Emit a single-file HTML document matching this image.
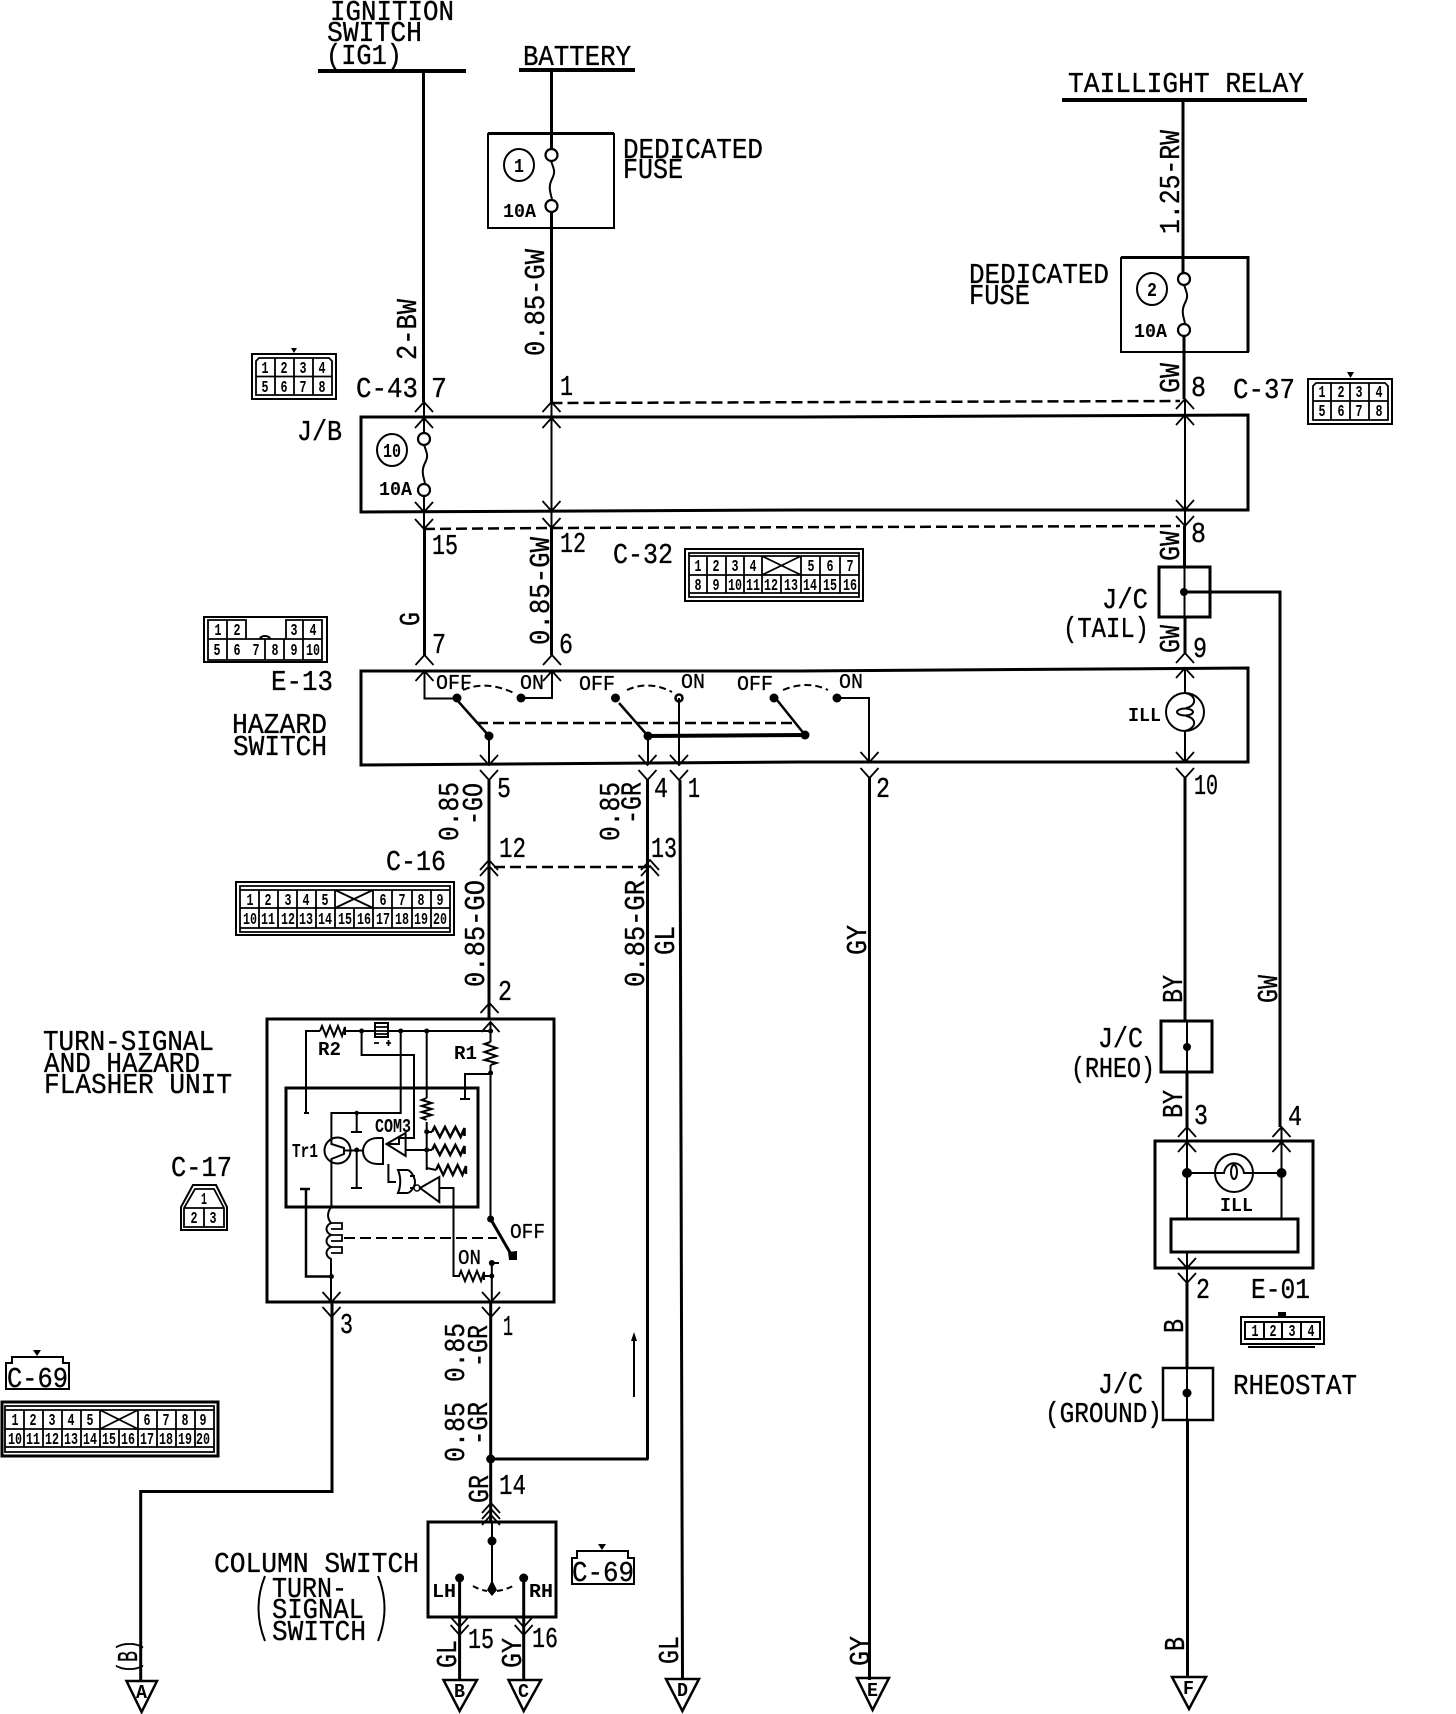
<!DOCTYPE html>
<html>
<head>
<meta charset="utf-8">
<title>Hazard and turn-signal wiring diagram</title>
<style>
html,body{margin:0;padding:0;background:#fff}
svg{display:block}
text{font-family:"Liberation Mono",monospace;fill:#000;stroke:none}
.t{font-size:29px;stroke:#000;stroke-width:.35}
.m{font-size:21px;stroke:#000;stroke-width:.3}
.s{font-size:19px;font-weight:bold}
.p{font-size:17px;font-weight:bold;text-anchor:middle}
.w{fill:none;stroke:#000;stroke-width:3}
.n{fill:none;stroke:#000;stroke-width:2}
.h{fill:none;stroke:#000;stroke-width:1.8}
.d{fill:none;stroke:#000;stroke-width:2.5;stroke-dasharray:11 5}
.k{fill:#000;stroke:none}
</style>
</head>
<body>
<svg xmlns="http://www.w3.org/2000/svg" width="1456" height="1714" viewBox="0 0 1456 1714">
<defs>
<path id="up" d="M-9,10 L0,0 L9,10" fill="none" stroke="#000" stroke-width="1.8"/>
<path id="dn" d="M-9,-10 L0,0 L9,-10" fill="none" stroke="#000" stroke-width="1.8"/>
<path id="rh" d="M0,0 l2,-5 l4,10 l4,-10 l4,10 l4,-10 l4,10 l3,-9 v8" fill="none" stroke="#000" stroke-width="2"/>
<path id="fz" d="M0,6 c4,10 4,12 1,18 c-3,6 -3,10 0,20" fill="none" stroke="#000" stroke-width="2"/>
</defs>

<!-- power bars and top wires -->
<path class="w" style="stroke-width:4" d="M318,71H466M519,70H635M1062,100H1307"/>
<path class="w" d="M423.5,71V402M551.5,70V149M551.5,212V402M1183,100V273M1184,336V399"/>
<text class="t" x="330" y="20" textLength="124" lengthAdjust="spacingAndGlyphs">IGNITION</text>
<text class="t" x="327" y="41" textLength="95" lengthAdjust="spacingAndGlyphs">SWITCH</text>
<text class="t" x="326" y="64" textLength="76" lengthAdjust="spacingAndGlyphs">(IG1)</text>
<text class="t" x="523" y="65" textLength="108" lengthAdjust="spacingAndGlyphs">BATTERY</text>
<text class="t" x="1068" y="92" textLength="236" lengthAdjust="spacingAndGlyphs">TAILLIGHT RELAY</text>

<!-- dedicated fuse 1 -->
<rect class="n" x="488" y="134" width="126" height="94"/>
<path class="w" d="M488,133.5H614"/>
<ellipse class="n" cx="519" cy="165" rx="15" ry="16"/>
<text class="s" x="514" y="172" textLength="10" lengthAdjust="spacingAndGlyphs">1</text>
<use href="#fz" x="551" y="155"/>
<circle cx="551.5" cy="155" r="6" fill="#fff" stroke="#000" stroke-width="2.2"/>
<circle cx="551.5" cy="206" r="6" fill="#fff" stroke="#000" stroke-width="2.2"/>
<text class="s" x="503" y="217" textLength="33" lengthAdjust="spacingAndGlyphs">10A</text>
<text class="t" x="623" y="158" textLength="140" lengthAdjust="spacingAndGlyphs">DEDICATED</text>
<text class="t" x="623" y="178" textLength="60" lengthAdjust="spacingAndGlyphs">FUSE</text>

<!-- dedicated fuse 2 -->
<rect class="n" x="1121" y="258" width="127" height="94"/>
<path class="w" d="M1121,257.5H1248V352"/>
<ellipse class="n" cx="1152" cy="289" rx="15" ry="16"/>
<text class="s" x="1147" y="296" textLength="10" lengthAdjust="spacingAndGlyphs">2</text>
<use href="#fz" x="1184" y="279"/>
<circle cx="1184" cy="279" r="6" fill="#fff" stroke="#000" stroke-width="2.2"/>
<circle cx="1184" cy="330" r="6" fill="#fff" stroke="#000" stroke-width="2.2"/>
<text class="s" x="1134" y="337" textLength="33" lengthAdjust="spacingAndGlyphs">10A</text>
<text class="t" x="969" y="283" textLength="140" lengthAdjust="spacingAndGlyphs">DEDICATED</text>
<text class="t" x="969" y="304" textLength="61" lengthAdjust="spacingAndGlyphs">FUSE</text>

<!-- rotated wire labels, upper -->
<text class="t" transform="translate(416,360) rotate(-90)" textLength="61" lengthAdjust="spacingAndGlyphs">2-BW</text>
<text class="t" transform="translate(544,356) rotate(-90)" textLength="107" lengthAdjust="spacingAndGlyphs">0.85-GW</text>
<text class="t" transform="translate(1179,234) rotate(-90)" textLength="104" lengthAdjust="spacingAndGlyphs">1.25-RW</text>
<text class="t" transform="translate(1179,393) rotate(-90)" textLength="30" lengthAdjust="spacingAndGlyphs">GW</text>
<text class="t" transform="translate(1179,561) rotate(-90)" textLength="30" lengthAdjust="spacingAndGlyphs">GW</text>
<text class="t" transform="translate(1179,653) rotate(-90)" textLength="28" lengthAdjust="spacingAndGlyphs">GW</text>
<text class="t" transform="translate(549,645) rotate(-90)" textLength="108" lengthAdjust="spacingAndGlyphs">0.85-GW</text>
<text class="t" transform="translate(419,626) rotate(-90)" textLength="14" lengthAdjust="spacingAndGlyphs">G</text>

<!-- C-43 -->
<path class="k" d="M291,348h6l-3,5z"/>
<rect class="n" x="252" y="354" width="84" height="45"/>
<path class="h" d="M256,361l3,-3H329l3,3V395H256ZM256,376.500H332M275,358V395M294,358V395M313,358V395"/>
<text class="p" x="265" y="373" textLength="7" lengthAdjust="spacingAndGlyphs">1</text>
<text class="p" x="284" y="373" textLength="7" lengthAdjust="spacingAndGlyphs">2</text>
<text class="p" x="303" y="373" textLength="7" lengthAdjust="spacingAndGlyphs">3</text>
<text class="p" x="322" y="373" textLength="7" lengthAdjust="spacingAndGlyphs">4</text>
<text class="p" x="265" y="392" textLength="7" lengthAdjust="spacingAndGlyphs">5</text>
<text class="p" x="284" y="392" textLength="7" lengthAdjust="spacingAndGlyphs">6</text>
<text class="p" x="303" y="392" textLength="7" lengthAdjust="spacingAndGlyphs">7</text>
<text class="p" x="322" y="392" textLength="7" lengthAdjust="spacingAndGlyphs">8</text>
<text class="t" x="356" y="397" textLength="62" lengthAdjust="spacingAndGlyphs">C-43</text>
<text class="t" x="431" y="397" textLength="16" lengthAdjust="spacingAndGlyphs">7</text>
<text class="t" x="560" y="395" textLength="13" lengthAdjust="spacingAndGlyphs">1</text>
<text class="t" x="1191" y="396" textLength="15" lengthAdjust="spacingAndGlyphs">8</text>
<text class="t" x="1233" y="398" textLength="62" lengthAdjust="spacingAndGlyphs">C-37</text>

<!-- C-37 -->
<path class="k" d="M1347,372h7l-3.500,6z"/>
<rect class="n" x="1308" y="379" width="84" height="45"/>
<path class="h" d="M1313,386l3,-3H1385l3,3V420H1313ZM1313,401H1388M1331,383V420M1350,383V420M1369,383V420"/>
<text class="p" x="1322" y="397" textLength="7" lengthAdjust="spacingAndGlyphs">1</text>
<text class="p" x="1341" y="397" textLength="7" lengthAdjust="spacingAndGlyphs">2</text>
<text class="p" x="1359" y="397" textLength="7" lengthAdjust="spacingAndGlyphs">3</text>
<text class="p" x="1379" y="397" textLength="7" lengthAdjust="spacingAndGlyphs">4</text>
<text class="p" x="1322" y="416" textLength="7" lengthAdjust="spacingAndGlyphs">5</text>
<text class="p" x="1341" y="416" textLength="7" lengthAdjust="spacingAndGlyphs">6</text>
<text class="p" x="1359" y="416" textLength="7" lengthAdjust="spacingAndGlyphs">7</text>
<text class="p" x="1379" y="416" textLength="7" lengthAdjust="spacingAndGlyphs">8</text>

<!-- J/B -->
<path class="w" d="M361,417H800L1248,415V510H800L361,512Z"/>
<path class="d" d="M551.500,403L1180,401"/>
<path class="d" d="M424,529L551.500,528L1180,526"/>
<text class="t" x="297" y="440" textLength="45" lengthAdjust="spacingAndGlyphs">J/B</text>
<ellipse class="n" cx="392" cy="450" rx="15" ry="16"/>
<text class="s" x="383" y="457" textLength="18" lengthAdjust="spacingAndGlyphs">10</text>
<path class="n" d="M424,402V433M424,496V529M551.500,402V529M1185,399V526"/>
<use href="#fz" x="424" y="439"/>
<circle cx="424" cy="439" r="6" fill="#fff" stroke="#000" stroke-width="2.2"/>
<circle cx="424" cy="490" r="6" fill="#fff" stroke="#000" stroke-width="2.2"/>
<text class="s" x="379" y="495" textLength="33" lengthAdjust="spacingAndGlyphs">10A</text>
<use href="#up" x="424" y="402"/><use href="#up" x="424" y="418"/>
<use href="#up" x="551.500" y="402"/><use href="#up" x="551.500" y="418"/>
<use href="#up" x="1185" y="399"/><use href="#up" x="1185" y="415"/>
<use href="#dn" x="424" y="512"/><use href="#dn" x="424" y="529"/>
<use href="#dn" x="551.500" y="511"/><use href="#dn" x="551.500" y="528"/>
<use href="#dn" x="1185" y="510"/><use href="#dn" x="1185" y="526"/>

<!-- between J/B and hazard switch -->
<path class="w" d="M424.500,529V655M551.500,528V655M1184.500,526V566M1185,617V653"/>
<text class="t" x="432" y="554" textLength="26" lengthAdjust="spacingAndGlyphs">15</text>
<text class="t" x="560" y="552" textLength="26" lengthAdjust="spacingAndGlyphs">12</text>
<text class="t" x="613" y="563" textLength="60" lengthAdjust="spacingAndGlyphs">C-32</text>
<text class="t" x="1191" y="542" textLength="15" lengthAdjust="spacingAndGlyphs">8</text>
<text class="t" x="432" y="653" textLength="14" lengthAdjust="spacingAndGlyphs">7</text>
<text class="t" x="559" y="653" textLength="14" lengthAdjust="spacingAndGlyphs">6</text>
<text class="t" x="1193" y="657" textLength="14" lengthAdjust="spacingAndGlyphs">9</text>

<!-- C-32 -->
<rect class="n" x="685" y="549" width="178" height="52"/>
<path class="h" d="M689,553H859V597H689ZM689,556H859M689,575H859M689,593H859M707,556V593M726,556V593M744,556V593M762,556V593M781,575V593M801,556V593M820,556V593M840,556V593M762,556L801,575M801,556L762,575"/>
<text class="p" x="698" y="571" textLength="7" lengthAdjust="spacingAndGlyphs">1</text>
<text class="p" x="716" y="571" textLength="7" lengthAdjust="spacingAndGlyphs">2</text>
<text class="p" x="735" y="571" textLength="7" lengthAdjust="spacingAndGlyphs">3</text>
<text class="p" x="753" y="571" textLength="7" lengthAdjust="spacingAndGlyphs">4</text>
<text class="p" x="811" y="571" textLength="7" lengthAdjust="spacingAndGlyphs">5</text>
<text class="p" x="830" y="571" textLength="7" lengthAdjust="spacingAndGlyphs">6</text>
<text class="p" x="850" y="571" textLength="7" lengthAdjust="spacingAndGlyphs">7</text>
<text class="p" x="698" y="590" textLength="7" lengthAdjust="spacingAndGlyphs">8</text>
<text class="p" x="716" y="590" textLength="7" lengthAdjust="spacingAndGlyphs">9</text>
<text class="p" x="735" y="590" textLength="14" lengthAdjust="spacingAndGlyphs">10</text>
<text class="p" x="753" y="590" textLength="14" lengthAdjust="spacingAndGlyphs">11</text>
<text class="p" x="771" y="590" textLength="14" lengthAdjust="spacingAndGlyphs">12</text>
<text class="p" x="791" y="590" textLength="14" lengthAdjust="spacingAndGlyphs">13</text>
<text class="p" x="810" y="590" textLength="14" lengthAdjust="spacingAndGlyphs">14</text>
<text class="p" x="830" y="590" textLength="14" lengthAdjust="spacingAndGlyphs">15</text>
<text class="p" x="850" y="590" textLength="14" lengthAdjust="spacingAndGlyphs">16</text>

<!-- J/C tail -->
<rect class="w" x="1159" y="567" width="51" height="50"/>
<path class="n" d="M1184.500,566V617"/>
<circle class="k" cx="1184" cy="592" r="4"/>
<path class="w" d="M1184,592H1280V1127"/>
<text class="t" x="1102" y="608" textLength="46" lengthAdjust="spacingAndGlyphs">J/C</text>
<text class="t" x="1063" y="637" textLength="86" lengthAdjust="spacingAndGlyphs">(TAIL)</text>

<!-- E-13 -->
<rect class="n" x="204" y="617" width="123" height="45"/>
<path class="h" d="M208,620H246V639H208ZM286,620H322V639H286ZM208,639H322V660H208ZM227,620V660M265,639V660M284,639V660M303,620V660"/>
<path class="n" d="M260,639a5,3 0 0 1 10,0"/>
<text class="p" x="218" y="635" textLength="7" lengthAdjust="spacingAndGlyphs">1</text>
<text class="p" x="237" y="635" textLength="7" lengthAdjust="spacingAndGlyphs">2</text>
<text class="p" x="294" y="635" textLength="7" lengthAdjust="spacingAndGlyphs">3</text>
<text class="p" x="313" y="635" textLength="7" lengthAdjust="spacingAndGlyphs">4</text>
<text class="p" x="217" y="655" textLength="7" lengthAdjust="spacingAndGlyphs">5</text>
<text class="p" x="237" y="655" textLength="7" lengthAdjust="spacingAndGlyphs">6</text>
<text class="p" x="256" y="655" textLength="7" lengthAdjust="spacingAndGlyphs">7</text>
<text class="p" x="275" y="655" textLength="7" lengthAdjust="spacingAndGlyphs">8</text>
<text class="p" x="294" y="655" textLength="7" lengthAdjust="spacingAndGlyphs">9</text>
<text class="p" x="313" y="655" textLength="14" lengthAdjust="spacingAndGlyphs">10</text>
<text class="t" x="271" y="690" textLength="62" lengthAdjust="spacingAndGlyphs">E-13</text>
<text class="t" x="232" y="733" textLength="95" lengthAdjust="spacingAndGlyphs">HAZARD</text>
<text class="t" x="233" y="755" textLength="94" lengthAdjust="spacingAndGlyphs">SWITCH</text>

<!-- hazard switch box -->
<path class="w" d="M361,671H800L1248,668V762H800L361,765Z"/>
<use href="#up" x="424.500" y="655"/><use href="#up" x="424.500" y="671"/>
<use href="#up" x="552" y="655"/><use href="#up" x="552" y="671"/>
<use href="#up" x="1185" y="653"/><use href="#up" x="1185" y="668"/>
<path class="n" d="M424.500,671V698.500H457M552,671V698H521"/>
<text class="m" x="436" y="689" textLength="36" lengthAdjust="spacingAndGlyphs">OFF</text>
<text class="m" x="520" y="689" textLength="24" lengthAdjust="spacingAndGlyphs">ON</text>
<text class="m" x="579" y="690" textLength="36" lengthAdjust="spacingAndGlyphs">OFF</text>
<text class="m" x="681" y="688" textLength="24" lengthAdjust="spacingAndGlyphs">ON</text>
<text class="m" x="737" y="690" textLength="36" lengthAdjust="spacingAndGlyphs">OFF</text>
<text class="m" x="839" y="688" textLength="24" lengthAdjust="spacingAndGlyphs">ON</text>
<circle class="k" cx="457" cy="698" r="4.500"/>
<circle class="k" cx="521" cy="698" r="4.500"/>
<circle class="k" cx="615.500" cy="698" r="4.500"/>
<circle cx="679" cy="698" r="3.500" fill="#fff" stroke="#000" stroke-width="2.500"/>
<circle class="k" cx="774" cy="698" r="4.500"/>
<circle class="k" cx="837" cy="698" r="4.500"/>
<path class="h" style="stroke-dasharray:7 4;stroke-width:2" d="M463,690Q486,680 514,693M627,690Q649,680 672,692M783,690Q807,680 828,690"/>
<path class="w" style="stroke-width:2.500" d="M457,700L489,736M619,703L648,736M777,700L805,735"/>
<path class="w" style="stroke-width:4" d="M648,736L805,735"/>
<circle class="k" cx="489" cy="736" r="4.500"/>
<circle class="k" cx="648" cy="736" r="4.500"/>
<circle class="k" cx="805" cy="735" r="4.500"/>
<path class="d" d="M477,723L797,723"/>
<path class="n" d="M679,698V765M837,698H869V762"/>
<path class="n" d="M489,736V765M648,736V765"/>
<use href="#dn" x="489" y="765"/><use href="#dn" x="489" y="780"/>
<use href="#dn" x="647.500" y="765"/><use href="#dn" x="647.500" y="780"/>
<use href="#dn" x="679" y="765"/><use href="#dn" x="679" y="780"/>
<use href="#dn" x="869.500" y="762"/><use href="#dn" x="869.500" y="778"/>
<circle cx="1185" cy="712" r="19" fill="#fff" stroke="#000" stroke-width="2"/>
<path class="n" d="M1185,668V693C1197,695 1197,706 1186,708M1186,716C1197,718 1197,728 1185,731V762"/>
<ellipse class="n" cx="1185" cy="712" rx="8" ry="3.500"/>
<text class="s" x="1128" y="721" textLength="33" lengthAdjust="spacingAndGlyphs">ILL</text>
<use href="#dn" x="1185" y="762"/><use href="#dn" x="1185" y="778"/>
<text class="t" x="497" y="797" textLength="14" lengthAdjust="spacingAndGlyphs">5</text>
<text class="t" x="654" y="797" textLength="14" lengthAdjust="spacingAndGlyphs">4</text>
<text class="t" x="688" y="797" textLength="12" lengthAdjust="spacingAndGlyphs">1</text>
<text class="t" x="876" y="797" textLength="14" lengthAdjust="spacingAndGlyphs">2</text>
<text class="t" x="1194" y="794" textLength="24" lengthAdjust="spacingAndGlyphs">10</text>

<!-- long middle wires -->
<path class="w" d="M489,780V1018M647.500,780V1459M680,780L682.500,1680M869.500,778V1680M1185,778V1021M1187,1072V1127M1187,1283V1368M1187.500,1420V1677"/>
<text class="t" transform="translate(458,841) rotate(-90)" textLength="59" lengthAdjust="spacingAndGlyphs">0.85</text>
<text class="t" transform="translate(482,825) rotate(-90)" textLength="42" lengthAdjust="spacingAndGlyphs">-GO</text>
<text class="t" transform="translate(619,841) rotate(-90)" textLength="59" lengthAdjust="spacingAndGlyphs">0.85</text>
<text class="t" transform="translate(640.500,824) rotate(-90)" textLength="42" lengthAdjust="spacingAndGlyphs">-GR</text>
<text class="t" x="499" y="857" textLength="27" lengthAdjust="spacingAndGlyphs">12</text>
<text class="t" x="651" y="857" textLength="26" lengthAdjust="spacingAndGlyphs">13</text>
<text class="t" x="386" y="870" textLength="60" lengthAdjust="spacingAndGlyphs">C-16</text>
<use href="#up" x="489" y="860"/><use href="#up" x="489" y="866"/>
<use href="#up" x="650" y="860"/><use href="#up" x="650" y="866"/>
<path class="d" d="M494,867H646"/>
<text class="t" transform="translate(484,987) rotate(-90)" textLength="107" lengthAdjust="spacingAndGlyphs">0.85-GO</text>
<text class="t" transform="translate(644,987) rotate(-90)" textLength="107" lengthAdjust="spacingAndGlyphs">0.85-GR</text>
<text class="t" transform="translate(674,955) rotate(-90)" textLength="29" lengthAdjust="spacingAndGlyphs">GL</text>
<text class="t" transform="translate(866,955) rotate(-90)" textLength="30" lengthAdjust="spacingAndGlyphs">GY</text>
<text class="t" x="498" y="1000" textLength="14" lengthAdjust="spacingAndGlyphs">2</text>
<use href="#up" x="489.500" y="1003"/>

<!-- C-16 -->
<rect class="n" x="236" y="882" width="218" height="53"/>
<path class="h" d="M240,886H450V932H240ZM240,890H450M240,908H450M240,928H450M259,890V928M278,890V928M297,890V928M316,890V928M335,890V928M354,908V928M373,890V928M392,890V928M412,890V928M431,890V928M335,890L373,908M373,890L335,908"/>
<text class="p" x="250" y="905" textLength="7" lengthAdjust="spacingAndGlyphs">1</text>
<text class="p" x="268" y="905" textLength="7" lengthAdjust="spacingAndGlyphs">2</text>
<text class="p" x="288" y="905" textLength="7" lengthAdjust="spacingAndGlyphs">3</text>
<text class="p" x="306" y="905" textLength="7" lengthAdjust="spacingAndGlyphs">4</text>
<text class="p" x="325" y="905" textLength="7" lengthAdjust="spacingAndGlyphs">5</text>
<text class="p" x="383" y="905" textLength="7" lengthAdjust="spacingAndGlyphs">6</text>
<text class="p" x="402" y="905" textLength="7" lengthAdjust="spacingAndGlyphs">7</text>
<text class="p" x="421" y="905" textLength="7" lengthAdjust="spacingAndGlyphs">8</text>
<text class="p" x="440" y="905" textLength="7" lengthAdjust="spacingAndGlyphs">9</text>
<text class="p" x="250" y="924" textLength="14" lengthAdjust="spacingAndGlyphs">10</text>
<text class="p" x="268" y="924" textLength="14" lengthAdjust="spacingAndGlyphs">11</text>
<text class="p" x="288" y="924" textLength="14" lengthAdjust="spacingAndGlyphs">12</text>
<text class="p" x="306" y="924" textLength="14" lengthAdjust="spacingAndGlyphs">13</text>
<text class="p" x="325" y="924" textLength="14" lengthAdjust="spacingAndGlyphs">14</text>
<text class="p" x="345" y="924" textLength="14" lengthAdjust="spacingAndGlyphs">15</text>
<text class="p" x="364" y="924" textLength="14" lengthAdjust="spacingAndGlyphs">16</text>
<text class="p" x="383" y="924" textLength="14" lengthAdjust="spacingAndGlyphs">17</text>
<text class="p" x="402" y="924" textLength="14" lengthAdjust="spacingAndGlyphs">18</text>
<text class="p" x="421" y="924" textLength="14" lengthAdjust="spacingAndGlyphs">19</text>
<text class="p" x="440" y="924" textLength="14" lengthAdjust="spacingAndGlyphs">20</text>

<!-- flasher unit labels -->
<text class="t" x="43" y="1050" textLength="171" lengthAdjust="spacingAndGlyphs">TURN-SIGNAL</text>
<text class="t" x="44" y="1072" textLength="156" lengthAdjust="spacingAndGlyphs">AND HAZARD</text>
<text class="t" x="44" y="1093" textLength="188" lengthAdjust="spacingAndGlyphs">FLASHER UNIT</text>
<text class="t" x="171" y="1176" textLength="61" lengthAdjust="spacingAndGlyphs">C-17</text>
<path class="n" d="M181,1230V1207L193,1185H216L227,1207V1230Z"/>
<path class="h" d="M184,1227V1208L195,1189H214L224,1208V1227ZM184,1208H224M204,1208V1227"/>
<text class="p" x="204" y="1204" textLength="6" lengthAdjust="spacingAndGlyphs">1</text>
<text class="p" x="194" y="1223" textLength="7" lengthAdjust="spacingAndGlyphs">2</text>
<text class="p" x="213" y="1223" textLength="7" lengthAdjust="spacingAndGlyphs">3</text>

<!-- flasher unit -->
<rect class="w" x="267" y="1019" width="287" height="283"/>
<rect class="w" x="286" y="1088" width="192" height="119"/>
<use href="#up" x="490.500" y="1022"/>
<path class="n" d="M304,1113H309M306,1113V1031H320M344,1031H490.500M490.500,1022V1042M490.500,1065V1219"/>
<use href="#rh" transform="translate(320,1031)"/>
<path class="n" d="M490.500,1042l-6,2l12,4l-12,4l12,4l-12,4l12,3l-6,2"/>
<circle class="k" cx="361.600" cy="1031" r="2.500"/>
<circle class="k" cx="400.700" cy="1031" r="2.500"/>
<circle class="k" cx="426.700" cy="1031" r="2.500"/>
<circle class="k" cx="490.600" cy="1031" r="2.500"/>
<circle class="k" cx="490.600" cy="1073" r="2.500"/>
<rect x="375" y="1023" width="13" height="14" fill="#fff" stroke="#000" stroke-width="2"/>
<path class="h" d="M375,1027H388M375,1031H388M375,1034H388"/>
<path class="h" d="M374,1043h5M386,1043h5M388.500,1040v6"/>
<text class="s" x="318" y="1055" textLength="23" lengthAdjust="spacingAndGlyphs">R2</text>
<text class="s" x="454" y="1059" textLength="23" lengthAdjust="spacingAndGlyphs">R1</text>
<path class="n" d="M361.600,1031V1055H414V1138H399V1144H386.500"/>
<path class="n" d="M400.700,1031V1113H331.400V1137"/>
<path class="n" d="M426.700,1031V1098M426.700,1122V1170"/>
<path class="n" d="M426.700,1098l-5,2l10,3l-10,3l10,3l-10,3l10,3l-10,3l5,2"/>
<path class="n" d="M490.500,1074H465V1099M460,1099H470"/>
<text class="s" x="375" y="1132" textLength="36" lengthAdjust="spacingAndGlyphs">COM3</text>
<text class="s" x="292" y="1157" textLength="26" lengthAdjust="spacingAndGlyphs">Tr1</text>
<ellipse class="n" cx="337.500" cy="1150.500" rx="13" ry="13"/>
<path class="n" d="M331.400,1137V1144L344,1148V1154L331.400,1159V1207M344,1150.500H363"/>
<path class="n" d="M356.700,1113V1132M351,1132H362M356.700,1150V1188M351,1188H362"/>
<circle class="k" cx="356.700" cy="1113" r="2.200"/>
<circle class="k" cx="356.700" cy="1150" r="2.500"/>
<path class="n" d="M383,1138H378C365,1138 363,1148 363,1151C363,1156 366,1164 378,1164H383V1138"/>
<path class="n" d="M386.500,1144L405.600,1133V1156Z"/>
<path class="n" d="M405.600,1150H426.700"/>
<circle class="k" cx="426.700" cy="1131.700" r="2.500"/>
<circle class="k" cx="426.700" cy="1150" r="2.500"/>
<use href="#rh" transform="translate(432,1132) scale(1.300,1)"/>
<use href="#rh" transform="translate(432,1150) scale(1.300,1)"/>
<use href="#rh" transform="translate(436,1170) scale(1.200,1)"/>
<path class="n" d="M426.700,1132H432M426.700,1150H432M426.700,1168L436,1170"/>
<path class="n" d="M388.400,1164V1182H396"/>
<path class="n" d="M398,1170H407C411,1170 415,1178 415,1182C415,1186 411,1193 407,1193H398C401,1186 401,1177 398,1170Z"/>
<path class="n" d="M415,1176H410M415,1188H410"/>
<circle cx="417" cy="1188" r="3" fill="#fff" stroke="#000" stroke-width="1.500"/>
<path class="n" d="M420,1188L439.300,1177V1202Z"/>
<path class="n" d="M439.300,1188H453.500V1276H460"/>
<use href="#rh" transform="translate(459,1276)"/>
<path class="n" d="M482,1276H491"/>
<circle class="k" cx="491.800" cy="1276" r="2.500"/>
<path class="w" style="stroke-width:2.500" d="M300,1189H310M306,1189V1276.500H331.400"/>
<circle class="k" cx="331.400" cy="1276.500" r="2.500"/>
<path class="n" d="M331.400,1207C327,1212 327,1218 331,1223C325,1226 325,1232 331,1235C325,1238 325,1244 331,1247C325,1250 325,1256 331,1259V1302"/>
<path class="h" d="M331,1223H342V1229H331M331,1235H342V1241H331M331,1247H342V1253H331"/>
<path class="d" style="stroke-width:2" d="M344,1238H497"/>
<circle class="k" cx="490.600" cy="1219" r="3.500"/>
<path class="w" d="M490.600,1219L512,1256"/>
<path class="k" d="M508,1252l9,-1v9h-8z"/>
<text class="m" x="510" y="1238" textLength="35" lengthAdjust="spacingAndGlyphs">OFF</text>
<text class="m" x="458" y="1264" textLength="23" lengthAdjust="spacingAndGlyphs">ON</text>
<circle class="k" cx="491.800" cy="1263" r="3"/>
<path class="n" d="M491.800,1263H499M491.800,1263V1302"/>
<use href="#dn" x="331.500" y="1302"/><use href="#dn" x="331.500" y="1317"/>
<use href="#dn" x="491" y="1302"/><use href="#dn" x="491" y="1317"/>
<text class="t" x="340" y="1333" textLength="13" lengthAdjust="spacingAndGlyphs">3</text>
<text class="t" x="503" y="1335" textLength="10" lengthAdjust="spacingAndGlyphs">1</text>

<!-- lower left wires -->
<path class="w" d="M332,1302V1491.500H140.700V1681M490.700,1302V1522"/>
<circle class="k" cx="490.700" cy="1459" r="4.500"/>
<path class="w" d="M490.700,1459H648.500"/>
<path class="n" d="M634,1336V1397"/>
<path class="k" d="M634,1332l3,9h-6z"/>
<text class="t" transform="translate(464,1382) rotate(-90)" textLength="59" lengthAdjust="spacingAndGlyphs">0.85</text>
<text class="t" transform="translate(487,1367) rotate(-90)" textLength="42" lengthAdjust="spacingAndGlyphs">-GR</text>
<text class="t" transform="translate(464,1462) rotate(-90)" textLength="60" lengthAdjust="spacingAndGlyphs">0.85</text>
<text class="t" transform="translate(487,1445) rotate(-90)" textLength="43" lengthAdjust="spacingAndGlyphs">-GR</text>
<text class="t" x="499" y="1494" textLength="27" lengthAdjust="spacingAndGlyphs">14</text>
<text class="t" transform="translate(488,1503) rotate(-90)" textLength="28" lengthAdjust="spacingAndGlyphs">GR</text>
<use href="#up" x="491" y="1503"/><use href="#up" x="491" y="1509"/><use href="#up" x="491" y="1515"/>

<!-- C-69 left small -->
<path class="k" d="M33,1350h8l-4,6z"/>
<path class="n" d="M6,1389V1363H12V1357H63V1363H69V1389Z"/>
<text class="t" x="7" y="1387" textLength="61" lengthAdjust="spacingAndGlyphs">C-69</text>

<!-- 20-pin connector -->
<rect class="w" x="2" y="1402" width="216" height="54"/>
<path class="h" d="M5,1406H214V1452H5ZM5,1410H214M5,1429H214M5,1447H214M24,1410V1447M43,1410V1447M62,1410V1447M81,1410V1447M100,1410V1447M119,1429V1447M138,1410V1447M157,1410V1447M176,1410V1447M195,1410V1447M100,1410L138,1429M138,1410L100,1429"/>
<text class="p" x="15" y="1425" textLength="7" lengthAdjust="spacingAndGlyphs">1</text>
<text class="p" x="33" y="1425" textLength="7" lengthAdjust="spacingAndGlyphs">2</text>
<text class="p" x="52" y="1425" textLength="7" lengthAdjust="spacingAndGlyphs">3</text>
<text class="p" x="71" y="1425" textLength="7" lengthAdjust="spacingAndGlyphs">4</text>
<text class="p" x="90" y="1425" textLength="7" lengthAdjust="spacingAndGlyphs">5</text>
<text class="p" x="147" y="1425" textLength="7" lengthAdjust="spacingAndGlyphs">6</text>
<text class="p" x="166" y="1425" textLength="7" lengthAdjust="spacingAndGlyphs">7</text>
<text class="p" x="185" y="1425" textLength="7" lengthAdjust="spacingAndGlyphs">8</text>
<text class="p" x="203" y="1425" textLength="7" lengthAdjust="spacingAndGlyphs">9</text>
<text class="p" x="15" y="1444" textLength="14" lengthAdjust="spacingAndGlyphs">10</text>
<text class="p" x="33" y="1444" textLength="14" lengthAdjust="spacingAndGlyphs">11</text>
<text class="p" x="52" y="1444" textLength="14" lengthAdjust="spacingAndGlyphs">12</text>
<text class="p" x="71" y="1444" textLength="14" lengthAdjust="spacingAndGlyphs">13</text>
<text class="p" x="90" y="1444" textLength="14" lengthAdjust="spacingAndGlyphs">14</text>
<text class="p" x="109" y="1444" textLength="14" lengthAdjust="spacingAndGlyphs">15</text>
<text class="p" x="128" y="1444" textLength="14" lengthAdjust="spacingAndGlyphs">16</text>
<text class="p" x="147" y="1444" textLength="14" lengthAdjust="spacingAndGlyphs">17</text>
<text class="p" x="166" y="1444" textLength="14" lengthAdjust="spacingAndGlyphs">18</text>
<text class="p" x="185" y="1444" textLength="14" lengthAdjust="spacingAndGlyphs">19</text>
<text class="p" x="203" y="1444" textLength="14" lengthAdjust="spacingAndGlyphs">20</text>

<!-- column switch -->
<rect class="w" x="428" y="1522" width="128" height="95"/>
<circle class="k" cx="492" cy="1541" r="4.500"/>
<path class="n" d="M492,1522V1590"/>
<path class="k" d="M492,1580l5,10l-5,6l-5,-6z"/>
<circle class="k" cx="459.600" cy="1578" r="4.500"/>
<circle class="k" cx="523.700" cy="1578" r="4.500"/>
<path class="w" d="M459.600,1578V1680M523.700,1578V1680"/>
<path class="n" stroke-dasharray="6 4" d="M473,1586Q480,1590 487,1591M497,1591Q505,1590 513,1586"/>
<text class="s" x="432" y="1597" textLength="24" lengthAdjust="spacingAndGlyphs">LH</text>
<text class="s" x="529" y="1597" textLength="24" lengthAdjust="spacingAndGlyphs">RH</text>
<use href="#dn" x="459.600" y="1627"/><use href="#dn" x="459.600" y="1635"/>
<use href="#dn" x="523.700" y="1627"/><use href="#dn" x="523.700" y="1635"/>
<text class="t" x="468" y="1648" textLength="26" lengthAdjust="spacingAndGlyphs">15</text>
<text class="t" x="532" y="1647" textLength="26" lengthAdjust="spacingAndGlyphs">16</text>
<text class="t" transform="translate(456,1668) rotate(-90)" textLength="28" lengthAdjust="spacingAndGlyphs">GL</text>
<text class="t" transform="translate(521,1668) rotate(-90)" textLength="30" lengthAdjust="spacingAndGlyphs">GY</text>
<text class="t" x="214" y="1572" textLength="205" lengthAdjust="spacingAndGlyphs">COLUMN SWITCH</text>
<text class="t" x="272" y="1597" textLength="75" lengthAdjust="spacingAndGlyphs">TURN-</text>
<text class="t" x="272" y="1618" textLength="92" lengthAdjust="spacingAndGlyphs">SIGNAL</text>
<text class="t" x="272" y="1640" textLength="94" lengthAdjust="spacingAndGlyphs">SWITCH</text>
<path class="n" d="M265,1576Q252,1608 265,1641M378,1576Q391,1608 378,1641"/>

<!-- C-69 right -->
<path class="k" d="M598,1544h8l-4,6z"/>
<path class="n" d="M572,1584V1558H577V1551H628V1558H634V1584Z"/>
<text class="t" x="572" y="1581" textLength="62" lengthAdjust="spacingAndGlyphs">C-69</text>

<!-- lower terminals -->
<text class="t" transform="translate(137,1673) rotate(-90)" textLength="33" lengthAdjust="spacingAndGlyphs">(B)</text>
<text class="t" transform="translate(678,1664) rotate(-90)" textLength="28" lengthAdjust="spacingAndGlyphs">GL</text>
<text class="t" transform="translate(869,1666) rotate(-90)" textLength="30" lengthAdjust="spacingAndGlyphs">GY</text>
<text class="t" transform="translate(1184,1651) rotate(-90)" textLength="14" lengthAdjust="spacingAndGlyphs">B</text>
<path class="n" style="stroke-width:2.500" d="M126.500,1681H157L141.600,1712ZM443.500,1680H477L459.600,1711ZM508.500,1680H541L523.700,1711ZM666,1679H699L682.400,1711ZM857,1678H889L872.600,1710ZM1172,1677H1206L1189,1709Z"/>
<text class="s" x="136" y="1698" textLength="11" lengthAdjust="spacingAndGlyphs">A</text>
<text class="s" x="454" y="1697" textLength="11" lengthAdjust="spacingAndGlyphs">B</text>
<text class="s" x="518" y="1697" textLength="11" lengthAdjust="spacingAndGlyphs">C</text>
<text class="s" x="677" y="1696" textLength="11" lengthAdjust="spacingAndGlyphs">D</text>
<text class="s" x="867" y="1696" textLength="11" lengthAdjust="spacingAndGlyphs">E</text>
<text class="s" x="1183" y="1694" textLength="11" lengthAdjust="spacingAndGlyphs">F</text>

<!-- right column -->
<text class="t" transform="translate(1182,1003) rotate(-90)" textLength="28" lengthAdjust="spacingAndGlyphs">BY</text>
<text class="t" transform="translate(1277,1003) rotate(-90)" textLength="28" lengthAdjust="spacingAndGlyphs">GW</text>
<rect class="w" x="1161" y="1021" width="51" height="51"/>
<circle class="k" cx="1187" cy="1047" r="4"/>
<path class="n" d="M1187,1021V1072"/>
<text class="t" x="1098" y="1047" textLength="45" lengthAdjust="spacingAndGlyphs">J/C</text>
<text class="t" x="1071" y="1077" textLength="84" lengthAdjust="spacingAndGlyphs">(RHEO)</text>
<text class="t" transform="translate(1182,1118) rotate(-90)" textLength="28" lengthAdjust="spacingAndGlyphs">BY</text>
<text class="t" x="1194" y="1124" textLength="14" lengthAdjust="spacingAndGlyphs">3</text>
<text class="t" x="1288" y="1125" textLength="14" lengthAdjust="spacingAndGlyphs">4</text>
<use href="#up" x="1187" y="1127"/><use href="#up" x="1187" y="1142"/>
<use href="#up" x="1281.500" y="1127"/><use href="#up" x="1281.500" y="1142"/>
<rect class="w" x="1155" y="1141" width="158" height="127"/>
<path class="n" d="M1187,1127V1219M1281.500,1127V1219"/>
<path class="n" d="M1187,1173H1215M1253,1173H1281.500"/>
<circle cx="1234" cy="1173" r="19" fill="none" stroke="#000" stroke-width="2"/>
<path class="n" d="M1215,1173H1224C1226,1160 1242,1160 1244,1173H1253"/>
<ellipse class="n" cx="1234" cy="1172" rx="3" ry="7"/>
<circle class="k" cx="1187" cy="1173" r="5"/>
<circle class="k" cx="1281.500" cy="1173" r="5"/>
<text class="s" x="1220" y="1211" textLength="33" lengthAdjust="spacingAndGlyphs">ILL</text>
<rect class="w" x="1171" y="1219" width="127" height="33"/>
<use href="#dn" x="1187" y="1268"/><use href="#dn" x="1187" y="1283"/>
<path class="n" d="M1187,1252V1283"/>
<text class="t" x="1196" y="1298" textLength="14" lengthAdjust="spacingAndGlyphs">2</text>
<text class="t" x="1251" y="1298" textLength="59" lengthAdjust="spacingAndGlyphs">E-01</text>
<text class="t" transform="translate(1183,1333) rotate(-90)" textLength="14" lengthAdjust="spacingAndGlyphs">B</text>

<!-- E-01 -->
<rect class="k" x="1278" y="1312" width="8" height="5"/>
<rect class="n" x="1241" y="1317" width="83" height="27"/>
<rect class="n" x="1245" y="1322" width="75" height="17"/>
<path class="n" d="M1264,1322V1339M1282,1322V1339M1301,1322V1339M1248,1347H1315"/>
<text class="p" x="1255" y="1336" textLength="7" lengthAdjust="spacingAndGlyphs">1</text>
<text class="p" x="1273" y="1336" textLength="7" lengthAdjust="spacingAndGlyphs">2</text>
<text class="p" x="1292" y="1336" textLength="7" lengthAdjust="spacingAndGlyphs">3</text>
<text class="p" x="1311" y="1336" textLength="7" lengthAdjust="spacingAndGlyphs">4</text>

<!-- J/C ground -->
<rect class="n" style="stroke-width:2.500" x="1163" y="1368" width="50" height="52"/>
<path class="n" d="M1187,1368V1420"/>
<circle class="k" cx="1187" cy="1393" r="4.500"/>
<text class="t" x="1098" y="1393" textLength="45" lengthAdjust="spacingAndGlyphs">J/C</text>
<text class="t" x="1045" y="1422" textLength="117" lengthAdjust="spacingAndGlyphs">(GROUND)</text>
<text class="t" x="1233" y="1394" textLength="124" lengthAdjust="spacingAndGlyphs">RHEOSTAT</text>
</svg>
</body>
</html>
